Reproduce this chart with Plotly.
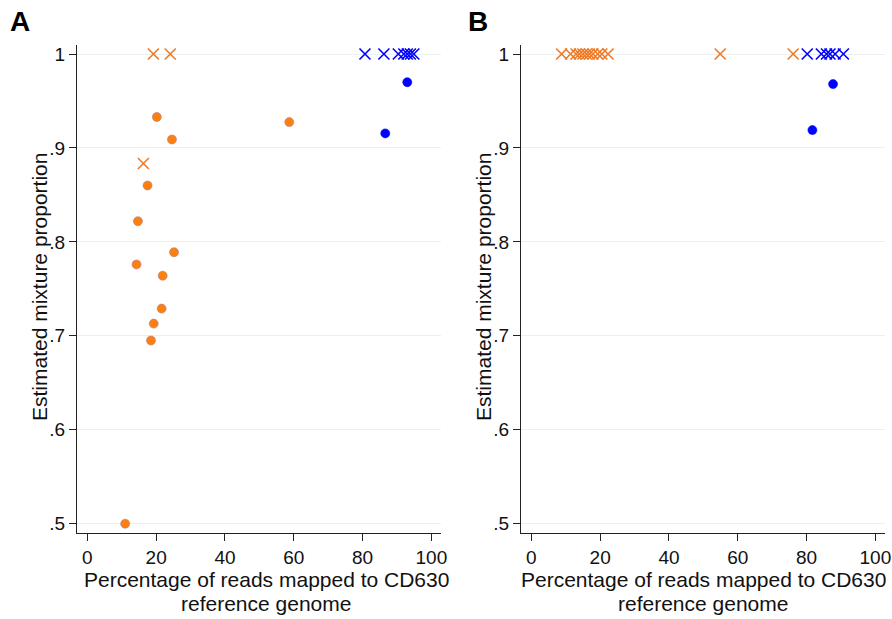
import plotly.graph_objects as go

# ---------------- data ----------------
# Panel A
a_orange_dot_x = [20.2, 24.6, 58.7, 17.5, 14.7, 25.2, 14.3, 21.9, 21.6, 19.3, 18.5, 11.0]
a_orange_dot_y = [0.933, 0.909, 0.9275, 0.860, 0.822, 0.789, 0.776, 0.764, 0.729, 0.713, 0.695, 0.500]
a_orange_x_x = [19.2, 24.1, 16.3]
a_orange_x_y = [1.0, 1.0, 0.8835]
a_blue_dot_x = [93.0, 86.6]
a_blue_dot_y = [0.970, 0.9155]
a_blue_x_x = [80.7, 86.2, 90.4, 92.0, 93.0, 93.9, 94.9]
a_blue_x_y = [1.0, 1.0, 1.0, 1.0, 1.0, 1.0, 1.0]

# Panel B
b_orange_x_x = [8.8, 11.4, 13.0, 14.0, 15.0, 16.0, 16.9, 17.9, 19.3, 20.5, 22.3, 54.9, 76.1]
b_orange_x_y = [1.0] * 13
b_blue_x_x = [80.2, 84.3, 85.8, 86.8, 88.3, 90.7]
b_blue_x_y = [1.0] * 6
b_blue_dot_x = [87.7, 81.7]
b_blue_dot_y = [0.968, 0.919]

x_tickvals = [0, 20, 40, 60, 80, 100]
x_ticktext = ["0", "20", "40", "60", "80", "100"]
y_tickvals = [0.5, 0.6, 0.7, 0.8, 0.9, 1.0]
y_ticktext = [".5", ".6", ".7", ".8", ".9", "1"]

x_title_lines = ["Percentage of reads mapped to CD630", "reference genome"]
y_title = "Estimated mixture proportion"
panel_labels = ["A", "B"]

# ---------------- styles ----------------
ORANGE_DOT = "#ff7f0e"
ORANGE_X = "#ef7a25"
BLUE = "#0000ff"
FONT = "Liberation Sans, Arial, sans-serif"
TXT = "#111"

def dots(x, y, color, axis, outline):
    return go.Scatter(
        x=x, y=y, mode="markers", xaxis=axis[0], yaxis=axis[1],
        marker=dict(symbol="circle", size=9, color=color,
                    line=dict(width=0.6, color=outline)),
        showlegend=False, hoverinfo="x+y")

def crosses(x, y, color, axis):
    return go.Scatter(
        x=x, y=y, mode="markers", xaxis=axis[0], yaxis=axis[1],
        marker=dict(symbol="x-thin-open", size=11, color=color,
                    line=dict(width=1.6, color=color)),
        showlegend=False, hoverinfo="x+y")

fig = go.Figure()
A = ("x", "y")
B = ("x2", "y2")
fig.add_trace(crosses(a_orange_x_x, a_orange_x_y, ORANGE_X, A))
fig.add_trace(crosses(a_blue_x_x, a_blue_x_y, BLUE, A))
fig.add_trace(dots(a_orange_dot_x, a_orange_dot_y, ORANGE_DOT, A, "#b07a8a"))
fig.add_trace(dots(a_blue_dot_x, a_blue_dot_y, BLUE, A, BLUE))

fig.add_trace(crosses(b_orange_x_x, b_orange_x_y, ORANGE_X, B))
fig.add_trace(crosses(b_blue_x_x, b_blue_x_y, BLUE, B))
fig.add_trace(dots(b_blue_dot_x, b_blue_dot_y, BLUE, B, BLUE))

W, H = 892, 619

def px(v):
    return v / W

def py(v):
    return 1 - v / H

def xaxis(dom, anchor):
    return dict(domain=dom, anchor=anchor, range=[-3.0, 102.8],
                tickmode="array", tickvals=x_tickvals, ticktext=x_ticktext,
                ticks="outside", ticklen=7, tickwidth=1.2, tickcolor="#222",
                showline=True, linecolor="#222", linewidth=1.3,
                showgrid=False, zeroline=False,
                tickfont=dict(family=FONT, size=19, color=TXT),
                automargin=False)

def yaxis(anchor):
    return dict(domain=[py(533), py(45)], anchor=anchor,
                range=[0.4901, 1.0096],
                tickmode="array", tickvals=y_tickvals, ticktext=y_ticktext,
                ticks="outside", ticklen=7, tickwidth=1.2, tickcolor="#222",
                showline=True, linecolor="#222", linewidth=1.3,
                showgrid=True, gridcolor="#e8f0f2", gridwidth=1.3,
                zeroline=False,
                tickfont=dict(family=FONT, size=19, color=TXT),
                automargin=False)

annotations = []
# panel letters
for lab, cx in zip(panel_labels, [20, 478]):
    annotations.append(dict(text="<b>%s</b>" % lab, x=px(cx), y=py(22),
                            xref="paper", yref="paper", showarrow=False,
                            xanchor="center", yanchor="middle",
                            font=dict(family=FONT, size=28, color="black")))
# axis titles
for cx_title, cx_y in [(266, 39), (703, 483)]:
    for line, cy in zip(x_title_lines, [579, 603]):
        annotations.append(dict(text=line, x=px(cx_title), y=py(cy),
                                xref="paper", yref="paper", showarrow=False,
                                xanchor="center", yanchor="middle",
                                font=dict(family=FONT, size=21, color=TXT)))
    annotations.append(dict(text=y_title, x=px(cx_y), y=py(287),
                            xref="paper", yref="paper", showarrow=False,
                            textangle=-90, xanchor="center", yanchor="middle",
                            font=dict(family=FONT, size=21, color=TXT)))

fig.update_layout(
    width=W, height=H,
    margin=dict(l=0, r=0, t=0, b=0),
    paper_bgcolor="white", plot_bgcolor="white",
    xaxis=xaxis([px(77), px(441)], "y"),
    yaxis=yaxis("x"),
    xaxis2=xaxis([px(521), px(885)], "y2"),
    yaxis2=yaxis("x2"),
    annotations=annotations,
)

fig.write_html("out.html",
               config={"displayModeBar": False},
               post_script="document.body.style.margin='0px';"
                           "document.body.style.overflow='hidden';")
